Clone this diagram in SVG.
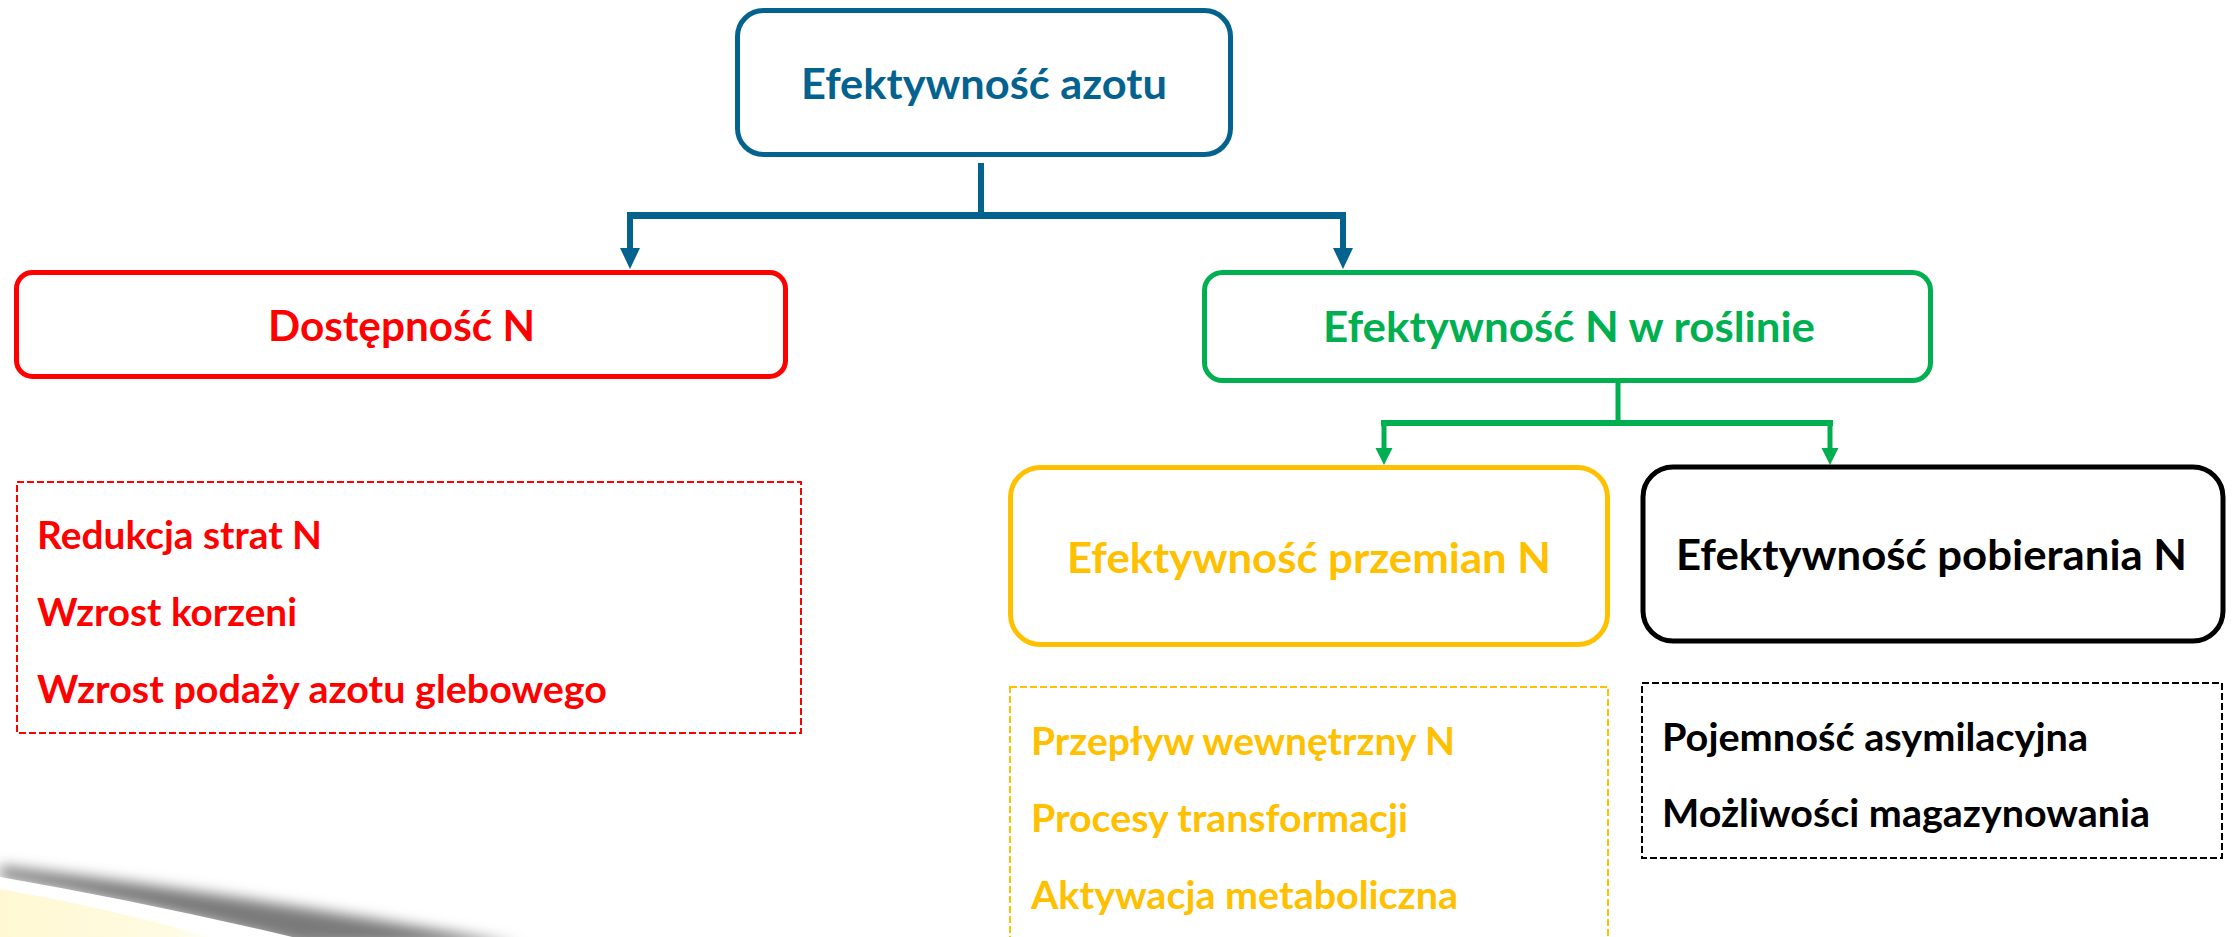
<svg xmlns="http://www.w3.org/2000/svg" width="2234" height="937" viewBox="0 0 2234 937">
<defs>
<style>
.t{font-family:Lato,"Liberation Sans",Arial,sans-serif;font-weight:bold;}
.h{font-size:42px;}
.l{font-size:39px;}
.box{fill:#fff;stroke-width:5;}
.dash{fill:none;stroke-width:2;stroke-dasharray:7 3;}
</style>
<marker id="ab" markerUnits="userSpaceOnUse" markerWidth="21" markerHeight="21" refX="2" refY="10" orient="auto" viewBox="0 0 21 20">
<path d="M0,0 L21,10 L0,20 Z" fill="#04628F"/>
</marker>
<marker id="ag" markerUnits="userSpaceOnUse" markerWidth="17" markerHeight="18" refX="2" refY="8.5" orient="auto" viewBox="0 0 17 17">
<path d="M0,0 L17,8.5 L0,17 Z" fill="#00B050"/>
</marker>
<filter id="blur" x="-20%" y="-50%" width="140%" height="200%">
<feGaussianBlur stdDeviation="7"/>
</filter>
<linearGradient id="cream" x1="0" y1="0" x2="1" y2="0">
<stop offset="0" stop-color="#FFF8D2"/>
<stop offset="0.75" stop-color="#FFFBE2"/>
<stop offset="1" stop-color="#FFFFFF"/>
</linearGradient>
</defs>
<rect x="0" y="0" width="2234" height="937" fill="#fff"/>

<g id="decor">
<path d="M0,866 Q250,895 520,945 L300,945 Q150,905 0,878 Z" fill="#7a7a7a" filter="url(#blur)"/>
<path d="M0,877 Q150,903 305,940 L0,940 Z" fill="#fff"/>
<path d="M0,889 Q110,908 222,940 L0,940 Z" fill="url(#cream)"/>
</g>

<g id="connectors" fill="none">
<path d="M981,163 V215" stroke="#04628F" stroke-width="6"/>
<path d="M627,215.5 H1346" stroke="#04628F" stroke-width="7"/>
<path d="M630,215 V250" stroke="#04628F" stroke-width="6" marker-end="url(#ab)"/>
<path d="M1343,215 V250" stroke="#04628F" stroke-width="6" marker-end="url(#ab)"/>
<path d="M1618,382 V423" stroke="#00B050" stroke-width="5"/>
<path d="M1381,423 H1833" stroke="#00B050" stroke-width="6"/>
<path d="M1384,423 V450" stroke="#00B050" stroke-width="5" marker-end="url(#ag)"/>
<path d="M1830,423 V450" stroke="#00B050" stroke-width="5" marker-end="url(#ag)"/>
</g>

<g id="n-azot">
<rect class="box" x="737.5" y="10.5" width="493" height="144" rx="26" stroke="#04628F"/>
<text class="t h" x="801" y="99" fill="#04628F" textLength="366" lengthAdjust="spacingAndGlyphs">Efektywność azotu</text>
</g>

<g id="n-dostepnosc">
<rect class="box" x="16.5" y="272.5" width="769" height="104" rx="16" stroke="#FF0000"/>
<text class="t h" x="268" y="341" fill="#FF0000" textLength="267" lengthAdjust="spacingAndGlyphs">Dostępność N</text>
</g>

<g id="n-roslina">
<rect class="box" x="1204.5" y="272.5" width="726" height="108" rx="18" stroke="#00B050"/>
<text class="t h" x="1323" y="342" fill="#00B050" textLength="492" lengthAdjust="spacingAndGlyphs">Efektywność N w roślinie</text>
</g>

<g id="n-przemiany">
<rect class="box" x="1010.5" y="467.5" width="597" height="177" rx="30" stroke="#FFC000"/>
<text class="t h" x="1067" y="573" fill="#FFC000" textLength="484" lengthAdjust="spacingAndGlyphs">Efektywność przemian N</text>
</g>

<g id="n-pobieranie">
<rect class="box" x="1643" y="467" width="580" height="174" rx="30" stroke="#000" stroke-width="6"/>
<text class="t h" x="1676" y="570" fill="#000" textLength="511" lengthAdjust="spacingAndGlyphs">Efektywność pobierania N</text>
</g>

<g id="l-dostepnosc">
<rect class="dash" x="17" y="482" width="784" height="251" stroke="#FF0000"/>
<text class="t l" x="37" y="549" fill="#FF0000" textLength="285" lengthAdjust="spacingAndGlyphs">Redukcja strat N</text>
<text class="t l" x="37" y="626" fill="#FF0000" textLength="260" lengthAdjust="spacingAndGlyphs">Wzrost korzeni</text>
<text class="t l" x="37" y="703" fill="#FF0000" textLength="570" lengthAdjust="spacingAndGlyphs">Wzrost podaży azotu glebowego</text>
</g>

<g id="l-przemiany">
<rect class="dash" x="1010" y="687" width="598" height="270" stroke="#FFC000"/>
<text class="t l" x="1031" y="755" fill="#FFC000" textLength="424" lengthAdjust="spacingAndGlyphs">Przepływ wewnętrzny N</text>
<text class="t l" x="1031" y="832" fill="#FFC000" textLength="377" lengthAdjust="spacingAndGlyphs">Procesy transformacji</text>
<text class="t l" x="1031" y="909" fill="#FFC000" textLength="427" lengthAdjust="spacingAndGlyphs">Aktywacja metaboliczna</text>
</g>

<g id="l-pobieranie">
<rect class="dash" x="1642" y="683" width="580" height="175" stroke="#000"/>
<text class="t l" x="1662" y="751" fill="#000" textLength="426" lengthAdjust="spacingAndGlyphs">Pojemność asymilacyjna</text>
<text class="t l" x="1662" y="827" fill="#000" textLength="488" lengthAdjust="spacingAndGlyphs">Możliwości magazynowania</text>
</g>
</svg>
